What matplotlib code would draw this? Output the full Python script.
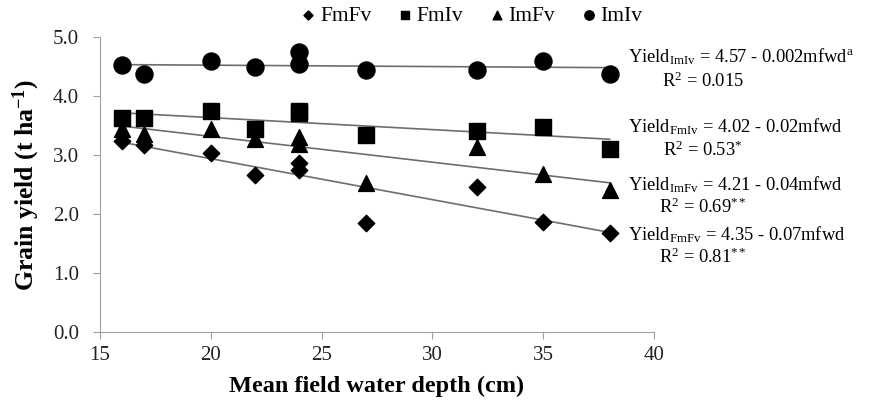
import numpy as np
import matplotlib
matplotlib.use("Agg")
import matplotlib.pyplot as plt

plt.rcParams['font.family'] = ['Liberation Serif', 'DejaVu Serif']
plt.rcParams['mathtext.fontset'] = 'custom'
plt.rcParams['mathtext.rm'] = 'Liberation Serif'
plt.rcParams['mathtext.it'] = 'Liberation Serif:italic'
plt.rcParams['mathtext.bf'] = 'Liberation Serif:bold'

# Data (mean field water depth, cm)
depth = [16, 17, 20, 22, 24, 24, 27, 32, 35, 38]
fmfv = [3.24, 3.17, 3.04, 2.66, 2.87, 2.74, 1.85, 2.46, 1.86, 1.68]
fmiv = [3.62, 3.62, 3.75, 3.45, 3.75, 3.72, 3.34, 3.41, 3.47, 3.10]
imfv = [3.45, 3.36, 3.45, 3.28, 3.30, 3.18, 2.52, 3.14, 2.68, 2.40]
imiv = [4.52, 4.37, 4.59, 4.49, 4.75, 4.54, 4.44, 4.45, 4.59, 4.37]

names = ['FmFv', 'FmIv', 'ImFv', 'ImIv']
markers = ['D', 's', '^', 'o']
sizes = [70, 120, 130, 150]

equations = [
    (r'Yield$_{\mathrm{ImIv}}$ = 4.57 - 0.002mfwd$^{\mathrm{a}}$', r'R$^{2}$ = 0.015'),
    (r'Yield$_{\mathrm{FmIv}}$ = 4.02 - 0.02mfwd', r'R$^{2}$ = 0.53$^{*}$'),
    (r'Yield$_{\mathrm{ImFv}}$ = 4.21 - 0.04mfwd', r'R$^{2}$ = 0.69$^{**}$'),
    (r'Yield$_{\mathrm{FmFv}}$ = 4.35 - 0.07mfwd', r'R$^{2}$ = 0.81$^{**}$'),
]

fig = plt.figure(figsize=(8.82, 4.12), dpi=100)
ax = fig.add_axes([0.1134, 0.194, 0.628, 0.716])

x = np.array(depth)
for ys, name, m, s in zip([fmfv, fmiv, imfv, imiv], names, markers, sizes):
    ys = np.array(ys)
    k, b = np.polyfit(x, ys, 1)
    xl = np.array([x.min(), x.max()])
    ax.plot(xl, k * xl + b, color='#6e6e6e', lw=1.2, zorder=1)
    ax.scatter(x, ys, marker=m, s=s, color='black', label=name, zorder=3)

ax.set_xlim(15, 40)
ax.set_ylim(0, 5)
ax.set_xticks([15, 20, 25, 30, 35, 40])
ax.set_yticks([0, 1, 2, 3, 4, 5])
ax.set_yticklabels(['0.0', '1.0', '2.0', '3.0', '4.0', '5.0'])
for side in ['top', 'right']:
    ax.spines[side].set_visible(False)
for side in ['left', 'bottom']:
    ax.spines[side].set_color('#a0a0a0')
ax.tick_params(colors='#a0a0a0', labelcolor='#222222', labelsize=15, length=5)
ax.tick_params(axis='x', pad=5)
ax.tick_params(axis='y', pad=10)

ax.set_xlabel('Mean field water depth (cm)', fontsize=17.5, fontweight='bold', labelpad=8)
ax.set_ylabel(r'Grain yield (t ha$^{\mathbf{-1}}$)', fontsize=18.5, fontweight='bold', labelpad=8)

ax.legend(loc='lower center', bbox_to_anchor=(0.671, 0.995), ncol=4, frameon=False,
          fontsize=15.5, handlelength=0.7, handletextpad=0.2, columnspacing=1.2,
          markerscale=0.55, borderaxespad=0.2)

# Equation text on the right
eq_y = [57, 127, 185, 235]
r2_y = [81, 150, 207, 257]
for (eq, r2), ye, yr in zip(equations, eq_y, r2_y):
    fig.text(628 / 882, 1 - ye / 412, eq, fontsize=13.3, ha='left', va='center')
    fig.text(703 / 882, 1 - yr / 412, r2, fontsize=13.3, ha='center', va='center')

fig.savefig('out.png', dpi=100)
